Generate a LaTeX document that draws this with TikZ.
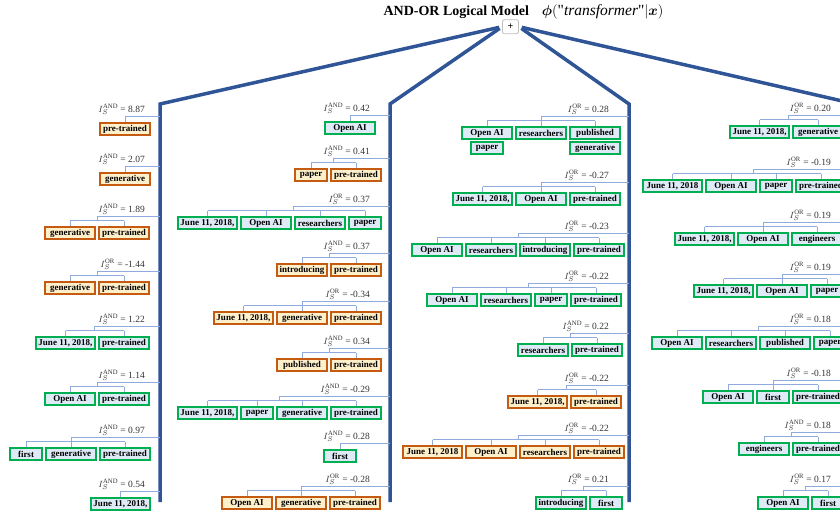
\documentclass[tikz,border=0pt]{standalone}
\usepackage{amsmath}
\usepackage{fontspec}
\setmainfont{Liberation Serif}
\usetikzlibrary{positioning,calc}

\definecolor{spineblue}{HTML}{2F5597}
\definecolor{linkblue}{HTML}{8FAADC}
\definecolor{amberedge}{HTML}{C55A11}
\definecolor{amberfill}{HTML}{FFF0CC}
\definecolor{greenedge}{HTML}{00B050}
\definecolor{greenfill}{HTML}{DEEBF7}

\tikzset{
	spine/.style={draw=spineblue, line width=3.5pt, shorten <=3pt},
	link/.style={draw=linkblue, line width=1pt},
	tokbox/.style={draw, line width=2pt, inner xsep=2pt, inner ysep=1pt,
		minimum height=12pt, font=\bfseries\fontsize{9}{10}\selectfont},
	wordbox/.style={minimum width=50pt},
	shortbox/.style={minimum width=32pt},
	datebox/.style={minimum width=59pt},
	orangebox/.style={draw=amberedge, fill=amberfill},
	greenbox/.style={draw=greenedge, fill=greenfill},
	score/.style={text=black!80, font=\fontsize{9.5}{11}\selectfont, inner sep=0pt},
	plusbox/.style={draw=black!25, line width=0.8pt, rounded corners=2pt, fill=white,
		minimum width=16pt, minimum height=14pt, inner sep=0pt,
		font=\bfseries\fontsize{10}{10}\selectfont}
}

% #1 name, #2 left of first box, #3 height of the branch, #4 AND/OR, #5 value,
% #6 colour style, #7 list of boxes
\newcommand{\scoreentry}[7]{%
	\foreach \wk/\wt [count=\i] in {#7} {\xdef\nbox{\i}}
	\ifnum\nbox=1 \def\boxtop{#3+6}\else\def\boxtop{#3+10}\fi
	\coordinate (r-#1) at (\spinex,#3+0.5);
	\coordinate (h-#1) at (\spinex,#3+4.5);
	\node[score, anchor=base east] (l-#1) at (\labelx,#3-4) {$I_S^{\textrm{#4}}$ = #5};
	\foreach \wk/\wt [count=\i, remember=\i as \j (initially 0)] in {#7} {
		\ifnum\i=1
			\node[tokbox, #6, \wk, anchor=north west] (b-#1-\i) at (#2,\boxtop) {\wt};
		\else
			\node[tokbox, #6, \wk, right=2pt of b-#1-\j] (b-#1-\i) {\wt};
		\fi
	}
	\ifnum\nbox=1
		\draw[link] (r-#1) -| (b-#1-1.north);
	\else
		\pgfmathtruncatemacro\midA{floor((\nbox+1)/2)}
		\pgfmathtruncatemacro\midB{ceil((\nbox+1)/2)}
		\coordinate (m-#1) at ($(b-#1-\midA.north)!.5!(b-#1-\midB.north)$);
		\draw[link] (r-#1) -| (m-#1 |- h-#1);
		\draw[link] (b-#1-1.north |- h-#1) -- (b-#1-\nbox.north |- h-#1);
		\foreach \i in {1,...,\nbox}
			\draw[link] (b-#1-\i.north |- h-#1) -- (b-#1-\i.north);
	\fi
}

\begin{document}
\begin{tikzpicture}[x=1pt, y=-1pt]
\useasboundingbox (0,0) rectangle (840,517);
\clip (0,0) rectangle (840,517);

\node[anchor=base west, font=\bfseries\fontsize{14}{16}\selectfont] (title) at (380,15.7)
	{AND-OR Logical Model\hspace{13pt}{\fontsize{15.5}{17}\selectfont$\boldsymbol{\phi}(\textrm{\mdseries\textquotedbl}\mathit{transformer}\textrm{\mdseries\textquotedbl}|\boldsymbol{x})$}};
\node[plusbox] (plus) at (510.5,26.7) {+};

% the four branches of the sum
\foreach \n/\x/\y/\side in {1/160/104/west, 2/390/104/west, 3/629/104/east, 4/851/103/east} {
	\coordinate (top\n) at (\x,\y);
	\coordinate (bot\n) at (\x,502);
	\draw[spine] (plus.\side) -- (top\n) -- (bot\n);
}

% first branch
\def\spinex{160}\def\labelx{145}
\scoreentry{a1}{99}{116}{AND}{8.87}{orangebox}{wordbox/pre-trained}
\scoreentry{a2}{99}{166}{AND}{2.07}{orangebox}{wordbox/generative}
\scoreentry{a3}{44}{216}{AND}{1.89}{orangebox}{wordbox/generative, wordbox/pre-trained}
\scoreentry{a4}{44}{271}{OR}{-1.44}{orangebox}{wordbox/generative, wordbox/pre-trained}
\scoreentry{a5}{35}{326}{AND}{1.22}{greenbox}{datebox/{June 11, 2018,}, wordbox/pre-trained}
\scoreentry{a6}{44}{382}{AND}{1.14}{greenbox}{wordbox/Open AI, wordbox/pre-trained}
\scoreentry{a7}{9}{437}{AND}{0.97}{greenbox}{shortbox/first, wordbox/generative, wordbox/pre-trained}
\scoreentry{a8}{90}{491}{AND}{0.54}{greenbox}{datebox/{June 11, 2018,}}

% second branch
\def\spinex{390}\def\labelx{370}
\scoreentry{b1}{324}{115}{AND}{0.42}{greenbox}{wordbox/Open AI}
\scoreentry{b2}{294}{158}{AND}{0.41}{orangebox}{shortbox/paper, wordbox/pre-trained}
\scoreentry{b3}{177}{206}{OR}{0.37}{greenbox}{datebox/{June 11, 2018,}, wordbox/Open AI, wordbox/researchers, shortbox/paper}
\scoreentry{b4}{276}{253}{AND}{0.37}{orangebox}{wordbox/introducing, wordbox/pre-trained}
\scoreentry{b5}{213}{301}{OR}{-0.34}{orangebox}{datebox/{June 11, 2018,}, wordbox/generative, wordbox/pre-trained}
\scoreentry{b6}{276}{348}{AND}{0.34}{orangebox}{wordbox/published, wordbox/pre-trained}
\scoreentry{b7}{177}{396}{AND}{-0.29}{greenbox}{datebox/{June 11, 2018,}, shortbox/paper, wordbox/generative, wordbox/pre-trained}
\scoreentry{b8}{323}{443}{AND}{0.28}{greenbox}{shortbox/first}
\scoreentry{b9}{221}{486}{OR}{-0.28}{orangebox}{wordbox/Open AI, wordbox/generative, wordbox/pre-trained}

% third branch
\def\spinex{629}\def\labelx{609}
\scoreentry{c1}{461}{116}{OR}{0.28}{greenbox}{wordbox/Open AI, wordbox/researchers, wordbox/published}
\node[tokbox, greenbox, shortbox, below=1pt of b-c1-1] (b-c1-4) {paper};
\node[tokbox, greenbox, wordbox, below=1pt of b-c1-3] (b-c1-5) {generative};
\scoreentry{c2}{452}{182}{OR}{-0.27}{greenbox}{datebox/{June 11, 2018,}, wordbox/Open AI, wordbox/pre-trained}
\scoreentry{c3}{411}{233}{OR}{-0.23}{greenbox}{wordbox/Open AI, wordbox/researchers, wordbox/introducing, wordbox/pre-trained}
\scoreentry{c4}{426}{283}{OR}{-0.22}{greenbox}{wordbox/Open AI, wordbox/researchers, shortbox/paper, wordbox/pre-trained}
\scoreentry{c5}{517}{333}{AND}{0.22}{greenbox}{wordbox/researchers, wordbox/pre-trained}
\scoreentry{c6}{507}{385}{OR}{-0.22}{orangebox}{datebox/{June 11, 2018,}, wordbox/pre-trained}
\scoreentry{c7}{402}{435}{OR}{-0.22}{orangebox}{datebox/{June 11, 2018}, wordbox/Open AI, wordbox/researchers, wordbox/pre-trained}
\scoreentry{c8}{535}{486}{OR}{0.21}{greenbox}{wordbox/introducing, shortbox/first}

% fourth branch, cut by the right edge
\def\spinex{851}\def\labelx{831}
\scoreentry{d1}{729}{115}{OR}{0.20}{greenbox}{datebox/{June 11, 2018,}, wordbox/generative}
\scoreentry{d2}{642}{169}{OR}{-0.19}{greenbox}{datebox/{June 11, 2018}, wordbox/Open AI, shortbox/paper, wordbox/pre-trained}
\scoreentry{d3}{674}{222}{OR}{0.19}{greenbox}{datebox/{June 11, 2018,}, wordbox/Open AI, wordbox/engineers}
\scoreentry{d4}{693}{274}{OR}{0.19}{greenbox}{datebox/{June 11, 2018,}, wordbox/Open AI, shortbox/paper}
\scoreentry{d5}{651}{326}{OR}{0.18}{greenbox}{wordbox/Open AI, wordbox/researchers, wordbox/published, shortbox/paper}
\scoreentry{d6}{702}{380}{OR}{-0.18}{greenbox}{wordbox/Open AI, shortbox/first, wordbox/pre-trained}
\scoreentry{d7}{738}{432}{AND}{0.18}{greenbox}{wordbox/engineers, wordbox/pre-trained}
\scoreentry{d8}{757}{486}{OR}{0.17}{greenbox}{wordbox/Open AI, shortbox/first}
\end{tikzpicture}
\end{document}
